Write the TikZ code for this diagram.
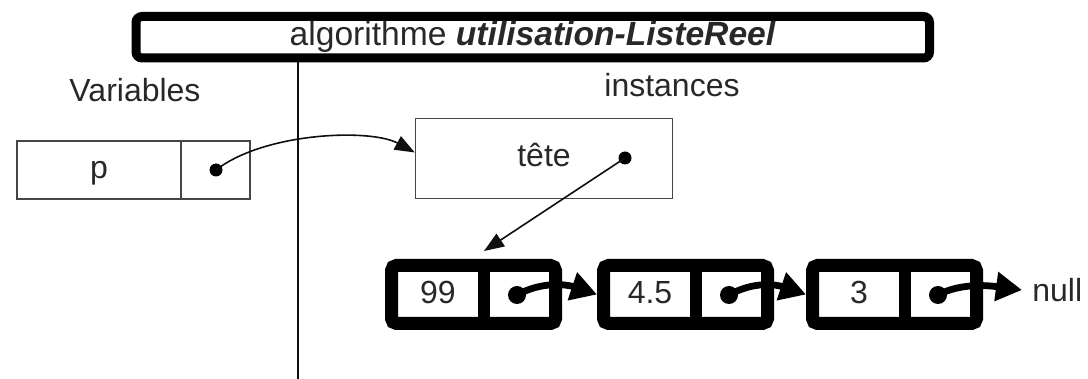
\documentclass[tikz,border=0pt]{standalone}
\usepackage{fontspec}
\setmainfont{Liberation Sans}
\usepackage{tikz}
\usetikzlibrary{arrows.meta, positioning, calc}
\definecolor{mydark}{RGB}{15,15,15}
\definecolor{mytext}{RGB}{40,40,40}
\definecolor{mygray}{RGB}{70,70,70}
\tikzset{
  lbl/.style={font=\fontsize{16}{19}\selectfont, text=mytext, inner sep=1pt},
  titlebox/.style={rectangle, draw=black, line width=4.5pt, rounded corners=3pt,
    minimum width=396.75pt, minimum height=20.75pt, inner sep=0pt,
    font=\fontsize{16.8}{19}\selectfont, text=mytext},
  cell/.style={rectangle, draw=mygray, line width=0.7pt, inner sep=0pt,
    minimum height=29pt, font=\fontsize{16}{19}\selectfont, text=mytext,
    text height=11.5pt, text depth=3pt},
  maillon/.style={rectangle, draw=black, line width=6.5pt, rounded corners=2.5pt,
    minimum width=82pt, minimum height=29pt, inner sep=0pt},
  valeur/.style={font=\fontsize{16}{19}\selectfont, text=mytext, inner sep=0pt,
    text height=11.5pt, text depth=3pt},
  ptr/.style={circle, fill=black, inner sep=0pt, minimum size=6.5pt},
  bigptr/.style={circle, fill=black, inner sep=0pt, minimum size=9pt},
  arrow/.style={-{Triangle[length=10pt,width=7.5pt]}, line width=0.8pt, color=mydark},
  bigarrow/.style={-{Triangle[length=13pt,width=14pt]}, line width=3.4pt, color=black}
}
\begin{document}
\begin{tikzpicture}[x=0.5pt, y=-0.5pt]
  \useasboundingbox (0,0) rectangle (1088,379);
  % title and separation
  \node[titlebox] (titre) at (532.75,37.25)
    {algorithme \textbf{\textit{utilisation-ListeReel}}};
  \coordinate (bas) at (298,379);
  \draw[line width=1pt, color=mydark] (bas |- titre.south) -- (bas);
  \node[lbl] (vars) at (135,90) {Variables};
  \node[lbl] (inst) at (672,85) {instances};
  % variable p
  \node[cell, minimum width=82pt] (pnom) at (99,170) {p};
  \node[cell, minimum width=34.5pt, right=0pt of pnom.east, anchor=west,
    xshift=-0.7pt] (pval) {};
  \node[ptr] (pd) at (216,170) {};
  % instance tete
  \node[cell, minimum width=128.5pt, minimum height=40pt] (tete) at (544,158.5) {t\^ete};
  \node[ptr] (td) at (625,158) {};
  \draw[arrow] (pd.center) .. controls +(49,-38) and +(-44,-24) .. ($(tete.west)+(0,-6)$);
  % liste chainee
  \foreach \i/\val/\xg in {1/99/385, 2/4.5/597, 3/3/806} {
    \node[maillon] (m\i) at (\xg+88.5,294.5) {};
    \coordinate (c\i) at (\xg+99,294.5);
    \draw[line width=6pt] (c\i |- m\i.north) -- (c\i |- m\i.south);
    \node[valeur] (v\i) at (\xg+53,295) {\val};
    \node[bigptr] (d\i) at (\xg+132,295) {};
  }
  \node[lbl, anchor=west, inner sep=5pt] (nul) at (1022,290) {null};
  \draw[arrow] (td.center) -- ($(c1 |- m1.north)+(0,-8)$);
  \draw[bigarrow] (d1.center) .. controls +(25,-14) and +(-30,-10) .. (m2.west);
  \draw[bigarrow] (d2.center) .. controls +(25,-14) and +(-30,-10) .. (m3.west);
  \draw[bigarrow] (d3.center) .. controls +(24,-13) and +(-30,-4) .. (nul.west);
\end{tikzpicture}
\end{document}
